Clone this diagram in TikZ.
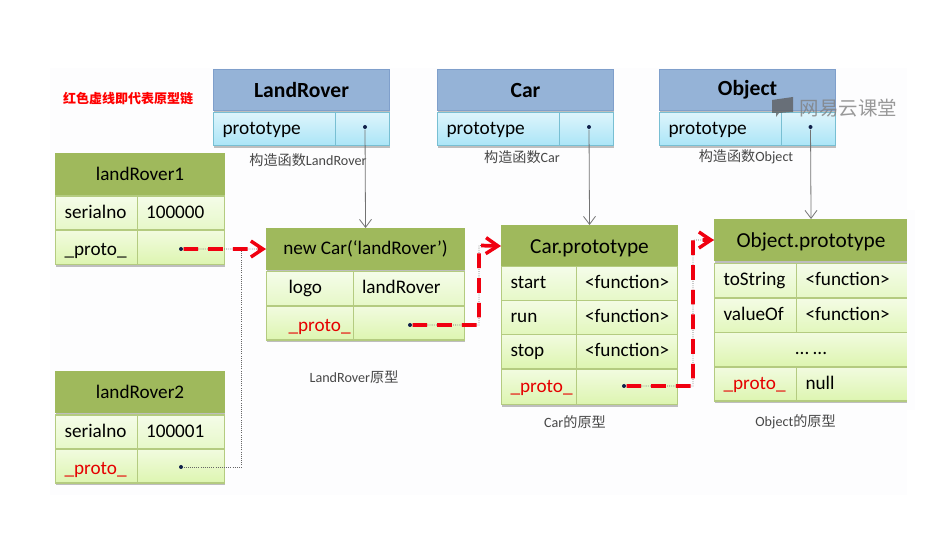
\documentclass[tikz,border=0pt]{standalone}
\usepackage{fontspec}
\setmainfont{Carlito}
\newfontfamily\cjk{Noto Sans CJK SC}
\usetikzlibrary{arrows.meta,shadows}
\newlength\px
\setlength\px{.75pt}
\definecolor{paper}{HTML}{FDFDFE}
\definecolor{bluehead}{HTML}{95B3D7}
\definecolor{blueline}{HTML}{7F9FCB}
\definecolor{bluerow}{HTML}{78BFD3}
\definecolor{bluefill}{HTML}{ABE5F7}
\definecolor{greenhead}{HTML}{9FB95C}
\definecolor{greenline}{HTML}{B4CB80}
\definecolor{rowA}{HTML}{E6F8C8}
\definecolor{rowB}{HTML}{E2F7BC}
\definecolor{rowC}{HTML}{DDF5B0}
\definecolor{dotblue}{HTML}{10204A}
\definecolor{chainred}{HTML}{F00010}

\begin{document}
\begin{tikzpicture}[x=1\px,y=-1\px,
					thick,
					sh/.style={drop shadow={shadow xshift=0pt,shadow yshift=-1.5pt,opacity=.5}},
					bighead/.style={font=\fontsize{16pt}{18pt}\selectfont,text height=13pt,text depth=1.2pt},
					lowrow/.style={text height=13.7pt},
					ctor/.style={rectangle,draw=blueline,line width=.8pt,fill=bluehead,anchor=north west,inner sep=0pt,
						minimum width=176\px,minimum height=41\px,font=\fontsize{16.2pt}{18pt}\bfseries,sh},
					ctorcell/.style={rectangle,draw=bluerow,line width=.8pt,top color=bluefill!40!white,bottom color=bluefill,
						anchor=north west,inner xsep=9\px,inner ysep=0pt,text width=#1\px-18\px,minimum height=33\px,
						align=left,text height=.92em,text depth=.14em,font=\fontsize{14.5pt}{16pt}\selectfont,sh},
					head/.style={rectangle,draw=greenhead,line width=.8pt,fill=greenhead,anchor=north west,inner sep=0pt,
						minimum height=41\px,font=\fontsize{14.4pt}{16pt}\selectfont,sh},
					cell/.style 2 args={rectangle,draw=greenline,line width=.8pt,top color=#2!40!white,bottom color=#2,
						anchor=north west,inner xsep=9\px,inner ysep=0pt,text width=#1\px-18\px,minimum height=34\px,
						align=left,text height=.92em,text depth=.14em,font=\fontsize{14.4pt}{16pt}\selectfont,sh},
					caption/.style={inner sep=0pt,text=black!72,font=\fontsize{10.6pt}{12pt}\selectfont},
					dot/.style={circle,fill=dotblue,inner sep=0pt,minimum size=4\px},
					link/.style={-{Straight Barb[length=6pt,width=9pt]},black!55,line width=.6pt},
					thinlink/.style={black!60,line width=.6pt,densely dotted},
					chain/.style={-{Straight Barb[length=9pt,width=12pt,line width=2.6pt]},chainred,line width=2.8pt,
						dash pattern=on 11pt off 7.5pt}]

  \useasboundingbox (0,0) rectangle (939,548);
  \fill[paper] (50,68) rectangle (907,495);

  \node[inner sep=0pt,text=red,font=\cjk\fontsize{9.75pt}{11pt}\bfseries] (note) at (128,99) {红色虚线即代表原型链};

  \node[ctor] (landroverhead) at (213,69) {LandRover};
  \node[ctorcell=122] (landroverkey) at (213,112) {prototype};
  \node[ctorcell=54] (landroverval) at (335,112) {};
  \node[ctor] (carhead) at (437,69) {Car};
  \node[ctorcell=122] (carkey) at (437,112) {prototype};
  \node[ctorcell=54] (carval) at (559,112) {};
  \node[ctor] (objecthead) at (659,69) {Object};
  \node[ctorcell=122] (objectkey) at (659,112) {prototype};
  \node[ctorcell=54] (objectval) at (781,112) {};

  \node[caption] (landrovertext) at (308,160) {{\cjk 构造函数}LandRover};
  \node[caption] (cartext) at (522,157) {{\cjk 构造函数}Car};
  \node[caption] (objecttext) at (746,157) {{\cjk 构造函数}Object};

  \node[head,minimum width=169\px] (roverAhead) at (55,153) {landRover1};
  \node[cell={81.5}{rowA}] (roverAserial) at (55,195.5) {serialno};
  \node[cell={87.5}{rowA}] (roverAno) at (136.5,195.5) {100000};
  \node[cell={81.5}{rowC},lowrow] (roverAkey) at (55,230) {\_proto\_};
  \node[cell={87.5}{rowC}] (roverAval) at (136.5,230) {};

  \node[head,minimum width=169\px] (roverBhead) at (55,371) {landRover2};
  \node[cell={81.5}{rowA}] (roverBserial) at (55,414.5) {serialno};
  \node[cell={87.5}{rowA}] (roverBno) at (136.5,414.5) {100001};
  \node[cell={81.5}{rowC},lowrow,text=red!90!black] (roverBkey) at (55,448.5) {\_proto\_};
  \node[cell={87.5}{rowC}] (roverBval) at (136.5,448.5) {};

  \node[head,minimum width=198\px] (newcarhead) at (266,228) {new Car(‘landRover’)};
  \node[cell={86.5}{rowA}] (logokey) at (266,271) {\hspace*{13\px}logo};
  \node[cell={111.5}{rowA}] (logoval) at (352.5,271) {landRover};
  \node[cell={86.5}{rowC},lowrow,text=red!90!black] (newcarkey) at (266,305.5) {\hspace*{13\px}\_proto\_};
  \node[cell={111.5}{rowC}] (newcarval) at (352.5,305.5) {};

  \node[caption] (newcartext) at (354,377) {LandRover{\cjk 原型}};

  \node[head,bighead,minimum width=176\px] (protohead) at (501,225) {Car.prototype};
  \node[cell={74.5}{rowA}] (startkey) at (501,266) {start};
  \node[cell={101.5}{rowA}] (startval) at (575.5,266) {<function>};
  \node[cell={74.5}{rowB}] (runkey) at (501,300) {run};
  \node[cell={101.5}{rowB}] (runval) at (575.5,300) {<function>};
  \node[cell={74.5}{rowC}] (stopkey) at (501,334) {stop};
  \node[cell={101.5}{rowC}] (stopval) at (575.5,334) {<function>};
  \node[cell={74.5}{rowC},text=red!90!black,minimum height=35\px] (protokey) at (501,369) {\_proto\_};
  \node[cell={101.5}{rowC},minimum height=35\px] (protoval) at (575.5,369) {};

  \node[caption] (prototext) at (575,422) {Car{\cjk 的原型}};

  \node[head,bighead,minimum width=193\px] (rootprotohead) at (714,219) {Object.prototype};
  \node[cell={82}{rowA}] (stringkey) at (714,263) {toString};
  \node[cell={111}{rowA}] (stringval) at (796,263) {<function>};
  \node[cell={82}{rowB}] (valuekey) at (714,298) {valueOf};
  \node[cell={111}{rowB}] (valueval) at (796,298) {<function>};
  \node[cell={193}{rowC},align=center] (moreval) at (714,332) {...\,...};
  \node[cell={82}{rowC},text=red!90!black] (rootkey) at (714,366.5) {\_proto\_};
  \node[cell={111}{rowC}] (rootval) at (796,366.5) {null};
  \fill[paper] (906.7,210) rectangle (915,410);

  \node[caption] (rootprototext) at (795.5,422) {Object{\cjk 的原型}};

  \node[dot] (landroverdot) at (365,127) {};
  \node[dot] (cardot) at (589,127) {};
  \node[dot] (objectdot) at (810.5,127) {};
  \node[dot] (roverAdot) at (181,249) {};
  \node[dot] (roverBdot) at (181,467) {};
  \node[dot] (newcardot) at (410,325) {};
  \node[dot] (protodot) at (624,386) {};

  \coordinate (joint) at (241.5,249);
  \coordinate (bendA) at (479,325);
  \coordinate (bendB) at (479,245.5);
  \coordinate (bendC) at (693,386);
  \coordinate (bendD) at (693,240);

  \path[link]
    (landroverdot) edge (newcarhead.north)
    (cardot) edge (protohead.north)
    (objectdot) edge (rootprotohead.north);

  \draw[thinlink] (roverBdot) -| (joint);
  \draw[thinlink] (roverAdot) -- (newcarhead.west);
  \draw[thinlink] (newcardot) -- (bendA) -- (bendB) -- (protohead.west);
  \draw[thinlink] (protodot) -- (bendC) -- (bendD) -- (rootprotohead.west);

  \draw[chain] (roverAdot) -- (newcarhead.west);
  \draw[chain] (newcardot) -- (bendA) -- (bendB) -- (protohead.west);
  \draw[chain] (protodot) -- (bendC) -- (bendD) -- (rootprotohead.west);

  \fill[black!65,opacity=.75] (772,100) -- (793,97) -- (793,112) -- (779,113) -- (776,117) -- (776,113) -- (772,113) -- cycle;
  \node[inner sep=0pt,text=black!50,opacity=.8,font=\cjk\fontsize{14.6pt}{16pt}\selectfont] (mark) at (848.5,108) {网易云课堂};
\end{tikzpicture}
\end{document}
